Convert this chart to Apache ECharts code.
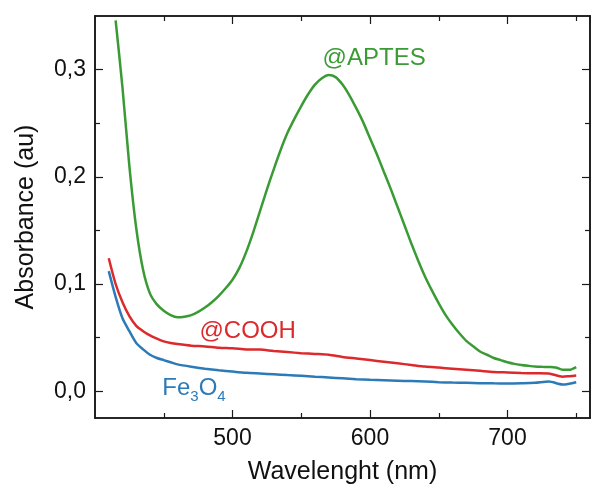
<!DOCTYPE html>
<html>
<head>
<meta charset="utf-8">
<script src="https://cdn.jsdelivr.net/npm/echarts@6/dist/echarts.min.js"></script>
<style>
  html, body { margin: 0; padding: 0; background: #fff; }
  #chart { width: 591px; height: 490px; }
</style>
</head>
<body>
<div id="chart"></div>
<script>
// UV-Vis absorbance spectra
// @APTES sample, 5 nm steps
const wavelengthAptes = [415, 420, 425, 430, 435, 440, 445, 450, 455, 460, 465, 470, 475, 480, 485,
  490, 495, 500, 505, 510, 515, 520, 525, 530, 535, 540, 545, 550, 555, 560,
  565, 570, 575, 580, 585, 590, 595, 600, 605, 610, 615, 620, 625, 630, 635,
  640, 645, 650, 655, 660, 665, 670, 675, 680, 685, 690, 695, 700, 705, 710,
  715, 720, 725, 730, 735, 740, 745, 750];
const aptes = [0.346, 0.283, 0.210, 0.152, 0.113, 0.091, 0.081, 0.075, 0.071, 0.069, 0.0695, 0.071, 0.074, 0.078, 0.083,
  0.089, 0.096, 0.104, 0.115, 0.130, 0.148, 0.168, 0.188, 0.207, 0.225, 0.241, 0.254, 0.266, 0.277, 0.286,
  0.292, 0.295, 0.293, 0.286, 0.276, 0.264, 0.251, 0.236, 0.221, 0.205, 0.189, 0.172, 0.155, 0.138, 0.122,
  0.107, 0.094, 0.082, 0.071, 0.062, 0.054, 0.047, 0.042, 0.037, 0.034, 0.031, 0.029, 0.027, 0.0255, 0.0245,
  0.0237, 0.023, 0.0227, 0.0225, 0.0222, 0.020, 0.020, 0.0225];

// @COOH and bare Fe3O4 samples
const wavelength = [410, 415, 420, 425, 430, 435, 440, 445, 450, 455, 460, 470, 480, 490, 500,
  510, 520, 530, 540, 550, 560, 570, 580, 590, 600, 610, 620, 630, 640, 650,
  660, 670, 680, 690, 700, 710, 720, 730, 740, 745, 750];
const cooh = [0.124, 0.100, 0.083, 0.070, 0.061, 0.056, 0.052, 0.049, 0.0465, 0.045, 0.044, 0.0425, 0.0418, 0.0405, 0.040,
  0.039, 0.0388, 0.0375, 0.0365, 0.0355, 0.0348, 0.034, 0.032, 0.0305, 0.029, 0.0275, 0.026, 0.0245, 0.023, 0.022,
  0.021, 0.020, 0.019, 0.018, 0.0175, 0.017, 0.0167, 0.0165, 0.0135, 0.014, 0.0146];
const fe3o4 = [0.112, 0.088, 0.068, 0.056, 0.045, 0.039, 0.034, 0.031, 0.029, 0.027, 0.025, 0.0228, 0.021, 0.0195, 0.0183,
  0.0172, 0.0165, 0.0158, 0.015, 0.0143, 0.0135, 0.0128, 0.012, 0.0112, 0.0106, 0.0102, 0.0098, 0.0094, 0.009, 0.0084,
  0.008, 0.0078, 0.0075, 0.0073, 0.0072, 0.0074, 0.0078, 0.009, 0.0062, 0.007, 0.0084];

const xMajorTicks = [500, 600, 700];
const xMinorTicks = [450, 550, 650, 750];
const yMajorTicks = [0, 0.1, 0.2, 0.3];
const yMinorTicks = [0.05, 0.15, 0.25];

const GREEN = '#3a9b35';
const RED = '#dc2a2c';
const BLUE = '#2c7bb8';
const FONT = '"Liberation Sans", Arial, sans-serif';

function pairs(xs, ys) {
  return xs.map((x, i) => [x, ys[i]]);
}

const frame = { show: true, onZero: false, lineStyle: { color: '#1a1a1a', width: 1.6 } };

function xAx(pos, ticks, len, withLabels) {
  return {
    type: 'value', position: pos, min: 400, max: 760,
    axisLine: frame,
    splitLine: { show: false },
    axisTick: { show: true, inside: true, length: len, customValues: ticks,
      lineStyle: { color: '#1a1a1a', width: 1.2 } },
    axisLabel: withLabels ? {
      show: true, customValues: ticks, margin: 9, color: '#111',
      fontSize: 23, fontFamily: FONT
    } : { show: false },
    name: withLabels ? 'Wavelenght (nm)' : '',
    nameLocation: 'middle', nameGap: 42,
    nameTextStyle: { fontSize: 25, fontFamily: FONT, color: '#111' }
  };
}

function yAx(pos, ticks, len, withLabels) {
  return {
    type: 'value', position: pos, min: -0.025, max: 0.35,
    axisLine: frame,
    splitLine: { show: false },
    axisTick: { show: true, inside: true, length: len, customValues: ticks,
      lineStyle: { color: '#1a1a1a', width: 1.2 } },
    axisLabel: withLabels ? {
      show: true, customValues: ticks, margin: 9, color: '#111',
      fontSize: 23, fontFamily: FONT,
      formatter: v => v.toFixed(1).replace('.', ',')
    } : { show: false },
    name: withLabels ? 'Absorbance (au)' : '',
    nameLocation: 'middle', nameGap: 56,
    nameTextStyle: { fontSize: 25, fontFamily: FONT, color: '#111' }
  };
}

// Sample name written next to its curve, anchored at a data coordinate
function tagLabel(text, color, coord, extra) {
  return {
    symbol: 'rect', symbolSize: [1, 1], silent: true,
    itemStyle: { color: 'rgba(0,0,0,0)' },
    data: [{ coord: coord }],
    label: Object.assign({
      show: true, position: 'inside', formatter: text, color: color,
      fontSize: 24, fontFamily: FONT
    }, extra || {})
  };
}

const chart = echarts.init(document.getElementById('chart'), null, { renderer: 'canvas' });

chart.setOption({
  animation: false,
  backgroundColor: '#fff',
  grid: { left: 95, top: 16, right: 1, bottom: 72, containLabel: false },
  xAxis: [
    xAx('bottom', xMajorTicks, 8, true),
    xAx('bottom', xMinorTicks, 5, false),
    xAx('top', xMajorTicks, 8, false),
    xAx('top', xMinorTicks, 5, false)
  ],
  yAxis: [
    yAx('left', yMajorTicks, 8, true),
    yAx('left', yMinorTicks, 5, false),
    yAx('right', yMajorTicks, 8, false),
    yAx('right', yMinorTicks, 5, false)
  ],
  series: [
    {
      name: '@APTES', type: 'line', showSymbol: false, smooth: 0.25,
      data: pairs(wavelengthAptes, aptes), lineStyle: { color: GREEN, width: 2.5 }, itemStyle: { color: GREEN },
      markPoint: tagLabel('@APTES', GREEN, [603, 0.3105])
    },
    {
      name: '@COOH', type: 'line', showSymbol: false, smooth: 0.25,
      data: pairs(wavelength, cooh), lineStyle: { color: RED, width: 2.5 }, itemStyle: { color: RED },
      markPoint: tagLabel('@COOH', RED, [511, 0.056])
    },
    {
      name: 'Fe3O4', type: 'line', showSymbol: false, smooth: 0.25,
      data: pairs(wavelength, fe3o4), lineStyle: { color: BLUE, width: 2.5 }, itemStyle: { color: BLUE },
      // chemical formula: main letters padded at the bottom so the digits sit lower
      markPoint: tagLabel('{n|Fe}{s|3}{n|O}{s|4}', BLUE, [472, -0.0055], {
        rich: {
          n: { fontSize: 24, lineHeight: 24, padding: [0, 0, 18, 0], verticalAlign: 'middle', color: BLUE, fontFamily: FONT },
          s: { fontSize: 15, lineHeight: 15, verticalAlign: 'middle', color: BLUE, fontFamily: FONT }
        }
      })
    }
  ]
});
</script>
</body>
</html>
